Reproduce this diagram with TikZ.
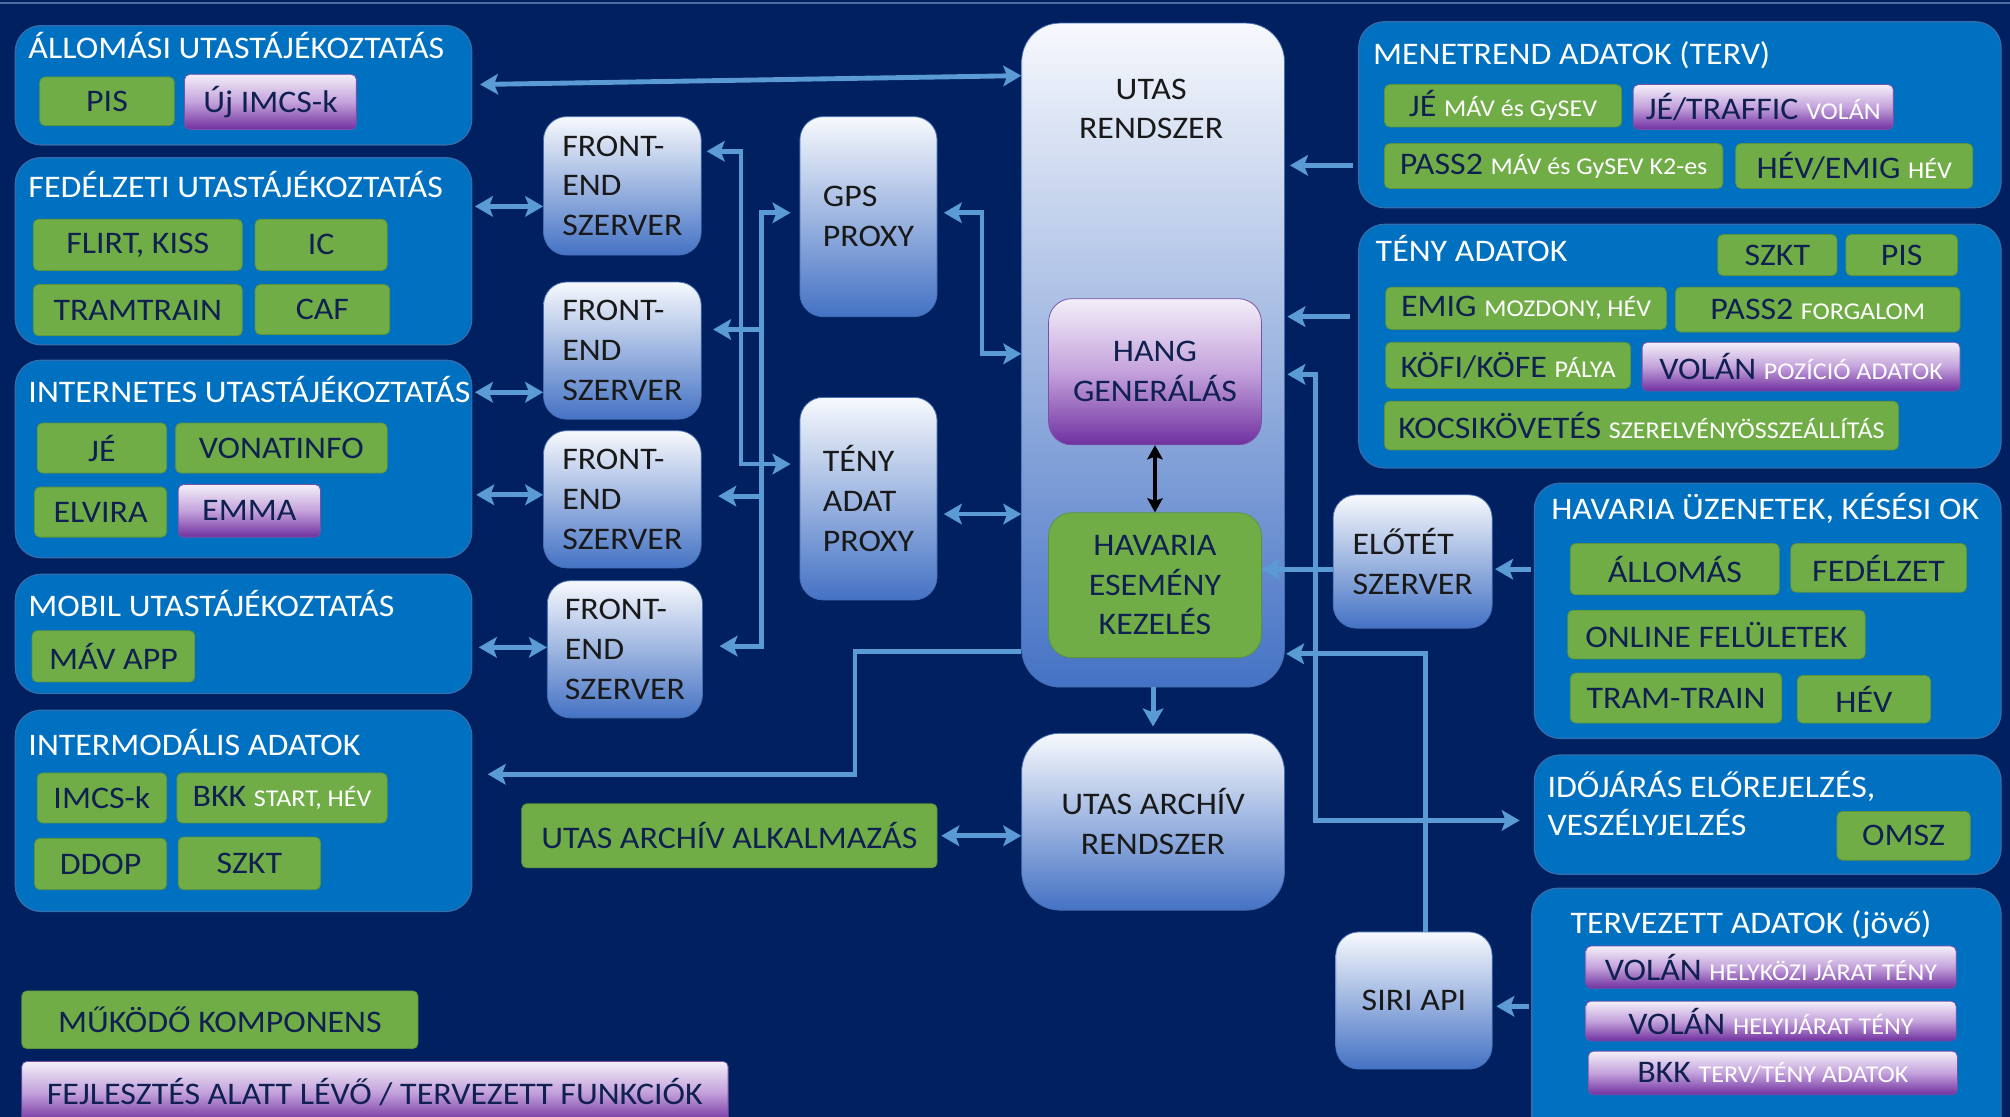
\documentclass[tikz,border=0pt]{standalone}
\usepackage{fontspec}
\setmainfont{Carlito}[FakeStretch=1.08]
\usetikzlibrary{arrows.meta}
\definecolor{bg}{RGB}{0,32,96}
\definecolor{cont}{RGB}{0,112,192}
\definecolor{contb}{RGB}{50,110,175}
\definecolor{grn}{RGB}{112,173,71}
\definecolor{grnb}{RGB}{92,148,58}
\definecolor{navy}{RGB}{16,32,80}
\definecolor{ptop}{RGB}{243,239,248}
\definecolor{pmid}{RGB}{196,162,220}
\definecolor{pbot}{RGB}{112,48,160}
\definecolor{pbord}{RGB}{120,80,170}
\definecolor{wtop}{RGB}{247,249,253}
\definecolor{wbot}{RGB}{68,114,196}
\definecolor{wbord}{RGB}{70,110,180}
\definecolor{arrc}{RGB}{91,155,213}
\definecolor{topln}{RGB}{70,110,160}
\newcommand\fsN{\fontsize{24.5}{31}\selectfont}
\newcommand\sm[1]{{\fontsize{18.8}{20}\selectfont\color{white}#1}}
\newcommand\mkbox[7]{\node[#6, minimum width={#4pt-#2pt}, minimum height={#5pt-#3pt}] (#1) at ({(#2+#4)/2},{(#3+#5)/2}) {#7};}
\tikzset{
  cont/.style={draw=contb, fill=cont, rounded corners=20pt, line width=1pt, inner sep=0pt},
  gbox/.style={draw=grnb, fill=grn, rounded corners=4pt, line width=0.6pt, text=navy, font=\fsN, inner sep=0pt},
  pbox/.style={draw=pbord, top color=ptop, bottom color=pbot, middle color=pmid, rounded corners=4pt, line width=0.6pt, text=navy, font=\fsN, inner sep=0pt},
  wbox/.style={draw=wbord, top color=wtop, bottom color=wbot, rounded corners=18pt, line width=0.6pt, text=black!90, font=\fsN, inner sep=0pt, align=left},
  ttl/.style={text=white, font=\fsN, anchor=base west, inner sep=0pt},
  arr/.style={draw=arrc, line width=3.8pt, >={Stealth[width=16pt,length=14pt,inset=3pt]}},
  blk/.style={draw=black, line width=3pt, >={Stealth[width=12pt,length=11pt,inset=2pt]}}
}
\begin{document}
\begin{tikzpicture}[x=1pt,y=-1pt]
\useasboundingbox (0,0) rectangle (1568,871);
\clip (0,0) rectangle (1568,871);
\fill[bg] (0,0) rectangle (1568,871);
\draw[topln, line width=1.5pt] (0,2) -- (1568,2);

% ---------- left containers ----------
\mkbox{allom}{12}{20}{368}{113}{cont}{}
\mkbox{fedel}{12}{123}{368}{269}{cont}{}
\mkbox{inter}{12}{281}{368}{435}{cont}{}
\mkbox{mobil}{12}{448}{368}{541}{cont}{}
\mkbox{intmod}{12}{554}{368}{711}{cont}{}
\node[ttl] (tallom) at (22,46) {ÁLLOMÁSI UTASTÁJÉKOZTATÁS};
\node[ttl] (tfedel) at (22,154) {FEDÉLZETI UTASTÁJÉKOZTATÁS};
\node[ttl] (tinter) at (22,314) {INTERNETES UTASTÁJÉKOZTATÁS};
\node[ttl] (tmobil) at (22,481) {MOBIL UTASTÁJÉKOZTATÁS};
\node[ttl] (tintmod) at (22,589) {INTERMODÁLIS ADATOK};

\mkbox{pis}{31}{60}{136}{98}{gbox}{PIS}
\mkbox{ujimcs}{144}{58}{278}{101}{pbox}{Új IMCS-k}
\mkbox{flirt}{26}{171}{189}{211}{gbox}{FLIRT, KISS}
\mkbox{ic}{199}{171}{302}{211}{gbox}{IC}
\mkbox{tramtrain}{26}{222}{189}{262}{gbox}{TRAMTRAIN}
\mkbox{caf}{199}{222}{304}{261}{gbox}{CAF}
\mkbox{je}{29}{330}{130}{369}{gbox}{JÉ}
\mkbox{vonat}{137}{330}{302}{369}{gbox}{VONATINFO}
\mkbox{elvira}{27}{380}{130}{419}{gbox}{ELVIRA}
\mkbox{emma}{139}{378}{250}{419}{pbox}{EMMA}
\mkbox{mavapp}{25}{492}{152}{532}{gbox}{MÁV APP}
\mkbox{imcs}{29}{603}{130}{642}{gbox}{IMCS-k}
\mkbox{bkk}{138}{603}{302}{642}{gbox}{BKK \sm{START, HÉV}}
\mkbox{ddop}{27}{654}{130}{694}{gbox}{DDOP}
\mkbox{szkt}{139}{653}{250}{694}{gbox}{SZKT}

% ---------- legend ----------
\mkbox{leg1}{17}{773}{326}{818}{gbox}{MŰKÖDŐ KOMPONENS}
\mkbox{leg2}{17}{828}{568}{876}{pbox}{FEJLESZTÉS ALATT LÉVŐ / TERVEZETT FUNKCIÓK}

% ---------- servers ----------
\mkbox{fe1}{424}{91}{547}{199}{wbox}{FRONT-\\END\\SZERVER}
\mkbox{fe2}{424}{220}{547}{327}{wbox}{FRONT-\\END\\SZERVER}
\mkbox{fe3}{424}{336}{547}{443}{wbox}{FRONT-\\END\\SZERVER}
\mkbox{fe4}{427}{453}{548}{560}{wbox}{FRONT-\\END\\SZERVER}
\mkbox{gps}{624}{91}{731}{247}{wbox}{GPS\\PROXY}
\mkbox{tenyp}{624}{310}{731}{468}{wbox}{TÉNY\\ADAT\\PROXY}
\mkbox{utas}{797}{18}{1002}{536}{wbox,rounded corners=30pt}{}
\node[text=black!90, font=\fsN, align=center, inner sep=0pt] (utast) at (898,85) {UTAS\\RENDSZER};
\mkbox{hang}{818}{233}{984}{347}{pbox,rounded corners=18pt,align=center}{HANG\\GENERÁLÁS}
\mkbox{havk}{818}{400}{984}{513}{gbox,rounded corners=18pt,align=center}{HAVARIA\\ESEMÉNY\\KEZELÉS}
\mkbox{archiv}{797}{572}{1002}{710}{wbox,rounded corners=30pt,align=center}{UTAS ARCHÍV\\RENDSZER}
\mkbox{alk}{407}{627}{731}{677}{gbox}{UTAS ARCHÍV ALKALMAZÁS}
\mkbox{elotet}{1040}{386}{1164}{490}{wbox}{ELŐTÉT\\SZERVER}
\mkbox{siri}{1042}{727}{1164}{834}{wbox}{SIRI API}

% ---------- right containers ----------
\mkbox{menet}{1060}{17}{1561}{162}{cont}{}
\mkbox{teny}{1060}{175}{1561}{365}{cont}{}
\mkbox{havu}{1197}{377}{1561}{576}{cont}{}
\mkbox{idoj}{1197}{589}{1561}{682}{cont}{}
\mkbox{terv}{1195}{693}{1561}{900}{cont}{}
\node[ttl] (tmenet) at (1071,50) {MENETREND ADATOK (TERV)};
\node[ttl] (tteny) at (1073,204) {TÉNY ADATOK};
\node[ttl] (thavu) at (1210,405) {HAVARIA ÜZENETEK, KÉSÉSI OK};
\node[ttl] (tidoj1) at (1207,622) {IDŐJÁRÁS ELŐREJELZÉS,};
\node[ttl] (tidoj2) at (1207,652) {VESZÉLYJELZÉS};
\node[ttl] (tterv) at (1225,728) {TERVEZETT ADATOK (jövő)};

\mkbox{jemav}{1080}{66}{1265}{99}{gbox}{JÉ \sm{MÁV és GySEV}}
\mkbox{jetraf}{1274}{66}{1477}{101}{pbox}{JÉ/TRAFFIC \sm{VOLÁN}}
\mkbox{pass2}{1080}{112}{1344}{147}{gbox}{PASS2 \sm{MÁV és GySEV K2-es}}
\mkbox{hevemig}{1354}{112}{1539}{147}{gbox}{HÉV/EMIG \sm{HÉV}}
\mkbox{szkt2}{1340}{183}{1433}{215}{gbox}{SZKT}
\mkbox{pis2}{1440}{183}{1527}{215}{gbox}{PIS}
\mkbox{emig}{1081}{224}{1300}{257}{gbox}{EMIG \sm{MOZDONY, HÉV}}
\mkbox{pass2f}{1307}{224}{1529}{259}{gbox}{PASS2 \sm{FORGALOM}}
\mkbox{kofi}{1081}{267}{1272}{303}{gbox}{KÖFI/KÖFE \sm{PÁLYA}}
\mkbox{volpoz}{1281}{267}{1529}{305}{pbox}{VOLÁN \sm{POZÍCIÓ ADATOK}}
\mkbox{kocsi}{1080}{313}{1481}{351}{gbox}{KOCSIKÖVETÉS \sm{SZERELVÉNYÖSSZEÁLLÍTÁS}}
\mkbox{allomas}{1225}{424}{1388}{464}{gbox}{ÁLLOMÁS}
\mkbox{fedelzet}{1397}{424}{1534}{462}{gbox}{FEDÉLZET}
\mkbox{online}{1223}{476}{1455}{514}{gbox}{ONLINE FELÜLETEK}
\mkbox{tramt}{1225}{525}{1390}{564}{gbox}{TRAM-TRAIN}
\mkbox{hev}{1402}{527}{1506}{564}{gbox}{HÉV}
\mkbox{omsz}{1433}{633}{1537}{671}{gbox}{OMSZ}
\mkbox{vol1}{1237}{738}{1526}{771}{pbox}{VOLÁN \sm{HELYKÖZI JÁRAT TÉNY}}
\mkbox{vol2}{1237}{781}{1526}{812}{pbox}{VOLÁN \sm{HELYIJÁRAT TÉNY}}
\mkbox{bkk2}{1239}{820}{1527}{854}{pbox}{BKK \sm{TERV/TÉNY ADATOK}}

% ---------- connectors ----------
\draw[arr,<->,shorten <=6pt] (allom.east |- 0,66) -- (utas.west |- 0,59);
\draw[arr,<->,shorten <=2pt] (fedel.east |- 0,161) -- (fe1.west |- 0,161);
\draw[arr,<->,shorten <=2pt] (inter.east |- 0,306) -- (fe2.west |- 0,306);
\draw[arr,<->,shorten <=3pt] (inter.east |- 0,386) -- (fe3.west |- 0,386);
\draw[arr,<->,shorten <=5pt] (mobil.east |- 0,505) -- (fe4.west |- 0,505);

\draw[arr,<->,shorten <=4pt,shorten >=7pt] (fe1.east |- 0,118) -- (578,118) -- (578,362) -- (tenyp.west |- 0,362);
\draw[arr,<->,shorten <=13pt,shorten >=7pt] (fe4.east |- 0,504) -- (594,504) -- (594,166) -- (gps.west |- 0,166);
\draw[arr,->,shorten >=9pt] (594,257) -- (fe2.east |- 0,257);
\draw[arr,->,shorten >=13pt] (594,387) -- (fe3.east |- 0,387);

\draw[arr,<->,shorten <=5pt] (gps.east |- 0,166) -- (766,166) -- (766,276) -- (utas.west |- 0,276);
\draw[arr,<->,shorten <=5pt] (tenyp.east |- 0,401) -- (utas.west |- 0,401);
\draw[arr,->,shorten >=12pt] (utas.west |- 0,508) -- (667,508) -- (667,604) -- (intmod.east |- 0,604);

\draw[blk,<->] (hang.south) -- (havk.north);
\draw[arr,->,shorten >=5pt] (utas.south) -- (archiv.north);
\draw[arr,<->,shorten <=3pt] (alk.east |- 0,652) -- (archiv.west |- 0,652);

\draw[arr,->,shorten <=4pt,shorten >=4pt] (menet.west |- 0,129) -- (utas.east |- 0,129);
\draw[arr,->,shorten <=6pt,shorten >=2pt] (teny.west |- 0,247) -- (utas.east |- 0,247);
\draw[arr,<->,shorten <=11pt,shorten >=2pt] (idoj.west |- 0,640) -- (1026,640) -- (1026,292) -- (utas.east |- 0,292);
\draw[arr,->] (elotet.west |- 0,444) -- (havk.east |- 0,444);
\draw[arr,->,shorten <=2pt,shorten >=2pt] (havu.west |- 0,444) -- (elotet.east |- 0,444);
\draw[arr,->,shorten >=1pt] (1112,0 |- siri.north) -- (1112,510) -- (utas.east |- 0,510);
\draw[arr,->,shorten <=2pt,shorten >=3pt] (terv.west |- 0,785) -- (siri.east |- 0,785);
\end{tikzpicture}
\end{document}
